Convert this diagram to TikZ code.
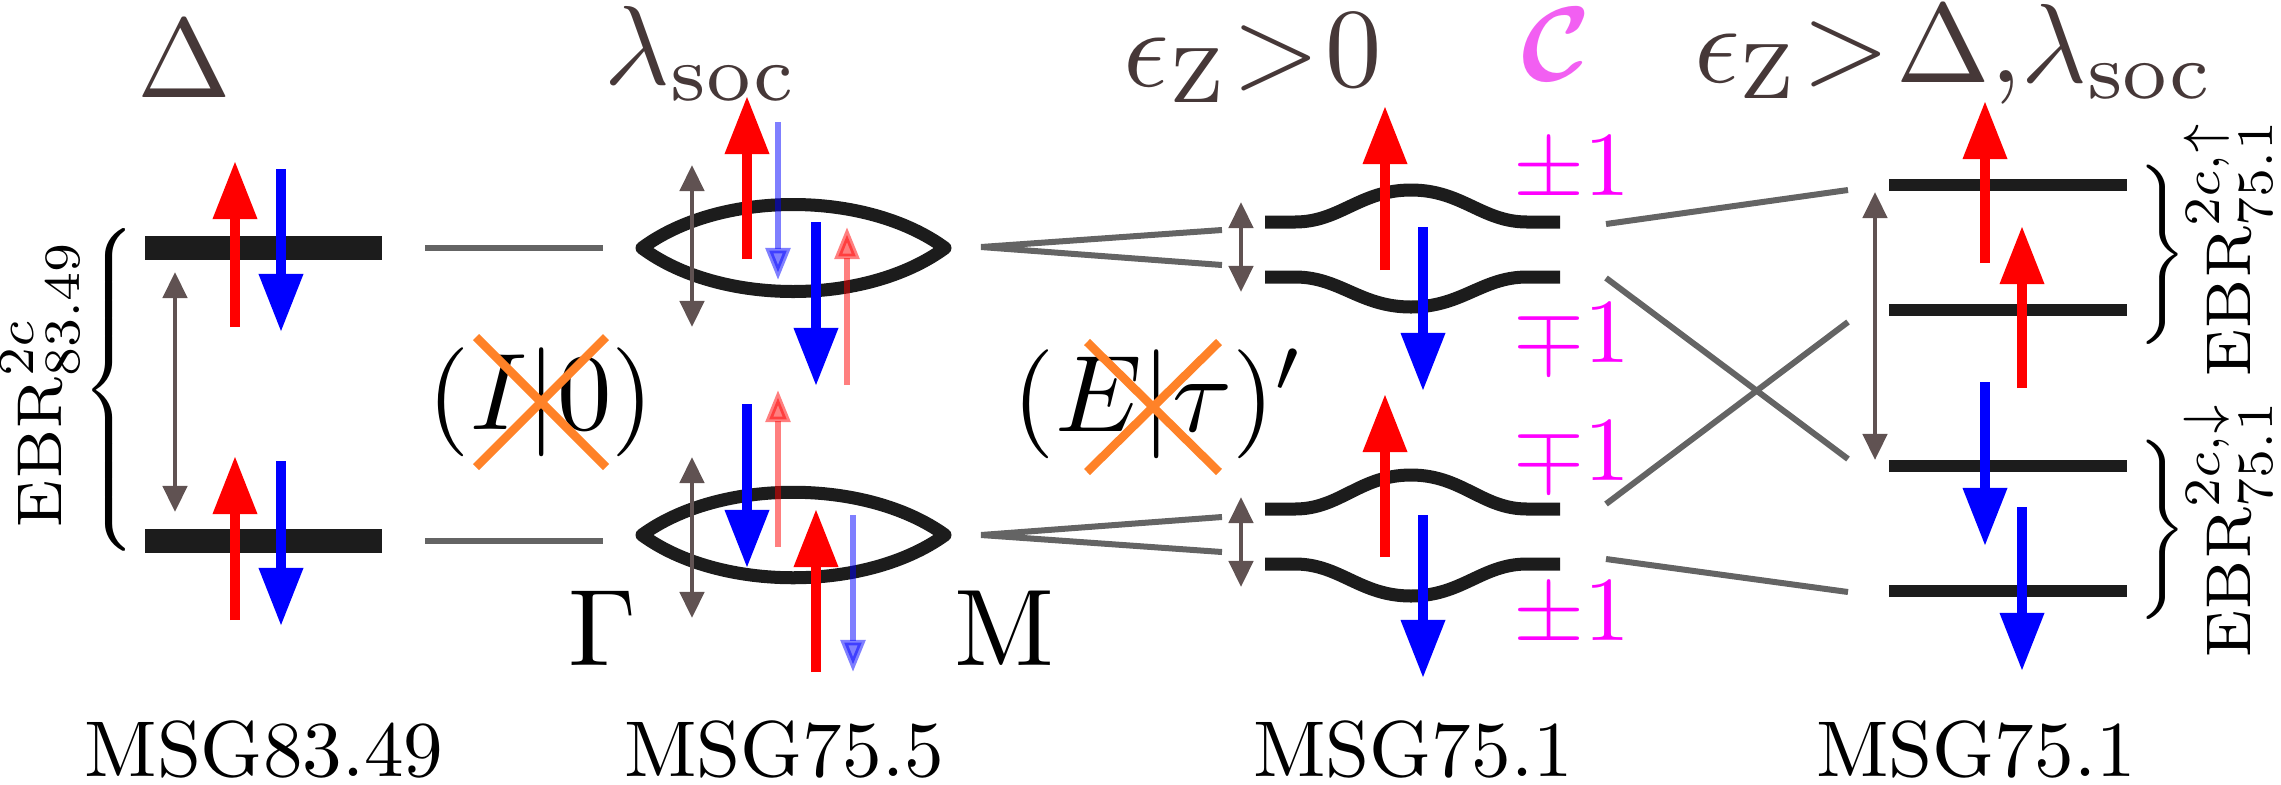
\documentclass[tikz,border=0pt]{standalone}
\usepackage{amsmath}
\usetikzlibrary{arrows.meta,calc}
% scale the 10pt / 7pt Computer Modern designs instead of the optical sizes
\DeclareFontShape{OT1}{cmr}{m}{n}{<-22.45> cmr7 <22.45-> cmr10}{}
\DeclareFontShape{OML}{cmm}{m}{it}{<-22.45> cmmi7 <22.45-> cmmi10}{}
\DeclareFontShape{OML}{cmm}{b}{it}{<-> cmmib10}{}
\DeclareFontShape{OMS}{cmsy}{m}{n}{<-22.45> cmsy7 <22.45-> cmsy10}{}
\DeclareFontShape{OMS}{cmsy}{b}{n}{<-> cmbsy10}{}
\DeclareFontShape{OMX}{cmex}{m}{n}{<-> cmex10}{}
\DeclareMathSizes{18}{18}{14.5}{11}
\definecolor{levelblack}{RGB}{28,28,28}
\definecolor{linkgray}{RGB}{100,100,100}
\definecolor{gapbrown}{RGB}{96,82,82}
\definecolor{headbrown}{RGB}{70,56,56}
\definecolor{crossorange}{RGB}{255,130,40}
\definecolor{chernpink}{RGB}{242,95,242}
\definecolor{chernmag}{RGB}{255,0,255}
\definecolor{spinred}{RGB}{255,0,0}
\definecolor{spinblue}{RGB}{0,0,255}
\newcommand{\gtr}{\mkern1mu{>}\mkern1mu}

\begin{document}
\begin{tikzpicture}[x=0.01cm, y=-0.01cm,
bar/.style={draw=levelblack, line width=0.24cm},
thinbar/.style={draw=levelblack, line width=0.12cm},
band/.style={draw=levelblack, line width=0.13cm, line join=round},
link/.style={draw=linkgray, line width=0.06cm},
gap/.style={draw=gapbrown, line width=0.045cm,
{Triangle[length=0.26cm,width=0.24cm]}-{Triangle[length=0.26cm,width=0.24cm]}},
up/.style={draw=spinred, line width=0.095cm,
-{Triangle[length=0.57cm,width=0.45cm,line width=0pt]}},
down/.style={up, draw=spinblue},
weakup/.style={draw=spinred, opacity=0.5, line width=0.055cm,
-{Triangle[length=0.32cm,width=0.24cm]}},
weakdown/.style={weakup, draw=spinblue},
strike/.style={draw=crossorange, line width=0.085cm},
head/.style={text=headbrown, inner sep=0pt, font=\fontsize{32}{38}\selectfont},
chern/.style={text=chernpink, inner sep=0pt, font=\fontsize{30}{36}\selectfont},
pm/.style={text=chernmag, inner sep=0pt, font=\fontsize{26}{31}\selectfont},
sym/.style={inner sep=0pt, font=\fontsize{31}{37}\selectfont},
msg/.style={inner sep=0pt, font=\fontsize{22.5}{27}\selectfont},
ebr/.style={inner sep=0pt, rotate=90, font=\fontsize{18}{22}\selectfont},
brc/.style={inner sep=0pt, font=\fontsize{17}{20}\selectfont}
]
\useasboundingbox (0,0) rectangle (2281,784);

% headers
\node[head, anchor=base] (hgap) at (184,97) {$\Delta$};
\node[head, anchor=base] (hsoc) at (700,84) {$\lambda_{\mathrm{soc}}$};
\node[head, anchor=base] (hzee) at (1253,86) {$\epsilon_{\mathrm{Z}}\gtr0$};
\node[chern, anchor=base] (hchern) at (1556,80) {$\boldsymbol{\mathcal{C}}$};
\node[head, anchor=base] (hall) at (1953,82) {$\epsilon_{\mathrm{Z}}\gtr\Delta{,}\lambda_{\mathrm{soc}}$};

% MSG83.49
\draw[bar] (145,248) -- (382,248);
\draw[bar] (145,541) -- (382,541);
\draw[gap] (175,272) -- (175,512);
\draw[up] (235,327) -- (235,162);
\draw[down] (281,169) -- (281,331);
\draw[up] (235,620) -- (235,457);
\draw[down] (281,461) -- (281,625);
\node[brc] (braceA) at (111,390) {$\left\{\vcenter{\hbox{\rule{0pt}{3.2cm}}}\right.$};
\node[ebr] (ebrA) at (40,385) {$\mathrm{EBR}^{2c}_{83.49}$};

% MSG75.5
\draw[band] (642,248) .. controls (720,190) and (866,190) .. (945,248)
  .. controls (866,306) and (720,306) .. (642,248) -- cycle;
\draw[band] (642,535) .. controls (720,478) and (866,478) .. (945,535)
  .. controls (866,592) and (720,592) .. (642,535) -- cycle;
\draw[gap] (692,165) -- (692,327);
\draw[gap] (692,457) -- (692,618);
\draw[up] (747,259) -- (747,97);
\draw[weakdown] (778,122) -- (778,280);
\draw[down] (816,222) -- (816,385);
\draw[weakup] (847,385) -- (847,227);
\draw[down] (747,404) -- (747,567);
\draw[weakup] (778,547) -- (778,390);
\draw[up] (816,672) -- (816,510);
\draw[weakdown] (853,515) -- (853,672);
\node[sym, anchor=base] (kG) at (603,665) {$\Gamma$};
\node[sym, anchor=base] (kM) at (1004,665) {$\mathrm{M}$};

% MSG75.1, split bands
\draw[band] (1265,222) -- (1295,222) .. controls (1340,222) and (1360,190) .. (1411,190)
  .. controls (1462,190) and (1482,222) .. (1527,222) -- (1560,222);
\draw[band] (1265,277) -- (1295,277) .. controls (1340,277) and (1360,307) .. (1411,307)
  .. controls (1462,307) and (1482,277) .. (1527,277) -- (1560,277);
\draw[band] (1265,509) -- (1295,509) .. controls (1340,509) and (1360,475) .. (1411,475)
  .. controls (1462,475) and (1482,509) .. (1527,509) -- (1560,509);
\draw[band] (1265,564) -- (1295,564) .. controls (1340,564) and (1360,596) .. (1411,596)
  .. controls (1462,596) and (1482,564) .. (1527,564) -- (1560,564);
\draw[gap] (1241,202) -- (1241,292);
\draw[gap] (1241,497) -- (1241,587);
\draw[up] (1385,270) -- (1385,107);
\draw[down] (1423,227) -- (1423,390);
\draw[up] (1385,557) -- (1385,395);
\draw[down] (1423,515) -- (1423,677);
\node[pm, anchor=base] (c1) at (1572,195) {$\pm1$};
\node[pm, anchor=base] (c2) at (1572,362) {$\mp1$};
\node[pm, anchor=base] (c3) at (1572,480) {$\mp1$};
\node[pm, anchor=base] (c4) at (1572,640) {$\pm1$};

% MSG75.1, Zeeman split levels
\draw[thinbar] (1889,185) -- (2127,185);
\draw[thinbar] (1889,310) -- (2127,310);
\draw[thinbar] (1889,466) -- (2127,466);
\draw[thinbar] (1889,591) -- (2127,591);
\draw[gap] (1875,192) -- (1875,460);
\draw[up] (1985,263) -- (1985,102);
\draw[up] (2022,388) -- (2022,227);
\draw[down] (1985,382) -- (1985,545);
\draw[down] (2022,507) -- (2022,670);
\node[brc] (braceU) at (2160,255) {$\left.\vcenter{\hbox{\rule{0pt}{1.7cm}}}\right\}$};
\node[brc] (braceD) at (2160,530) {$\left.\vcenter{\hbox{\rule{0pt}{1.7cm}}}\right\}$};
\node[ebr] (ebrU) at (2228,249) {$\mathrm{EBR}^{2c,\uparrow}_{75.1}$};
\node[ebr] (ebrD) at (2228,530) {$\mathrm{EBR}^{2c,\downarrow}_{75.1}$};

% links between columns
\coordinate (l1a) at (425,248); \coordinate (l1b) at (603,248);
\coordinate (l2a) at (425,541); \coordinate (l2b) at (603,541);
\draw[link] (l1a) -- (l1b);
\draw[link] (l2a) -- (l2b);
\coordinate (f1) at (981,247); \coordinate (f1u) at (1222,230); \coordinate (f1d) at (1222,265);
\coordinate (f2) at (981,535); \coordinate (f2u) at (1222,517); \coordinate (f2d) at (1222,552);
\draw[link] (f1u) -- (f1) -- (f1d);
\draw[link] (f2u) -- (f2) -- (f2d);
\coordinate (z1) at (1606,224); \coordinate (z1e) at (1848,190);
\coordinate (z2) at (1606,278); \coordinate (z2e) at (1848,459);
\coordinate (z3) at (1606,504); \coordinate (z3e) at (1848,322);
\coordinate (z4) at (1606,559); \coordinate (z4e) at (1848,592);
\draw[link] (z1) -- (z1e);
\draw[link] (z2) -- (z2e);
\draw[link] (z3) -- (z3e);
\draw[link] (z4) -- (z4e);

% broken symmetries
\node[sym] (inv) at (541,402) {$(I|0)$};
\draw[strike] ($(inv)+(-65,-65)$) -- ($(inv)+(65,65)$);
\draw[strike] ($(inv)+(-65,65)$) -- ($(inv)+(65,-65)$);
\node[sym] (trs) at (1157,404) {$(E|\tau)'$};
\draw[strike] ($(trs)+(-70,-62)$) -- ($(trs)+(62,68)$);
\draw[strike] ($(trs)+(-70,68)$) -- ($(trs)+(62,-62)$);

% bottom labels
\node[msg, anchor=base] (msgA) at (264,776) {$\mathrm{MSG83.49}$};
\node[msg, anchor=base] (msgB) at (784,776) {$\mathrm{MSG75.5}$};
\node[msg, anchor=base] (msgC) at (1413,776) {$\mathrm{MSG75.1}$};
\node[msg, anchor=base] (msgD) at (1976,776) {$\mathrm{MSG75.1}$};

\end{tikzpicture}
\end{document}
